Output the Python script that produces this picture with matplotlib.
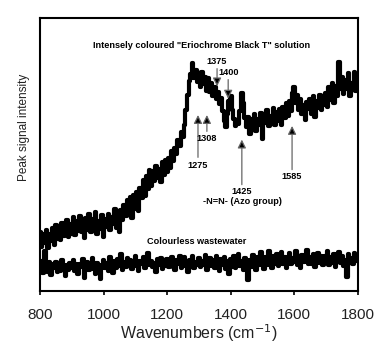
import matplotlib
matplotlib.use("Agg")
import matplotlib.pyplot as plt
import numpy as np

plt.rcParams["font.family"] = ["Liberation Sans", "DejaVu Sans"]

# wavenumbers, 5 cm-1 step
wavenumbers = np.arange(800, 1801, 5)

# "Eriochrome Black T" solution (arbitrary units)
dye_signal = [
    21.5, 16.2, 20.8, 17.5, 22.4, 15.9, 21.0, 18.3, 23.1, 17.0,
    24.2, 19.0, 22.9, 18.6, 25.1, 20.2, 21.4, 26.0, 19.8, 24.5,
    21.0, 27.2, 20.6, 25.8, 22.1, 27.5, 21.7, 24.3, 19.5, 26.9,
    22.3, 28.1, 21.8, 26.4, 23.0, 29.0, 20.9, 25.7, 22.6, 27.8,
    19.8, 26.5, 23.4, 28.3, 22.2, 27.0, 24.6, 30.1, 23.1, 28.6,
    21.5, 29.8, 26.0, 31.7, 27.4, 33.5, 28.0, 34.6, 26.8, 35.2,
    30.1, 36.4, 29.5, 37.9, 34.2, 40.6, 35.0, 42.1, 37.3, 44.5,
    38.4, 43.9, 40.2, 46.0, 41.5, 44.8, 39.9, 47.3, 42.6, 48.1,
    43.7, 48.9, 45.0, 51.2, 47.8, 52.6, 50.1, 55.3, 53.0, 58.2,
    56.4, 61.0, 66.5, 72.0, 76.8, 79.5, 83.5, 78.2, 81.0, 76.5,
    79.8, 74.9, 80.3, 76.0, 78.5, 73.4, 77.9, 72.8, 76.2, 71.5,
    74.6, 70.3, 73.0, 68.5, 70.8, 65.9, 62.4, 60.1, 64.8, 69.8,
    71.5, 66.2, 63.0, 60.5, 62.8, 61.2, 66.0, 72.6, 69.0, 63.5,
    60.2, 63.8, 57.5, 62.9, 60.0, 64.7, 58.8, 63.2, 61.0, 65.1,
    55.6, 63.9, 61.4, 66.2, 60.5, 64.0, 62.3, 67.1, 60.9, 65.5,
    62.2, 66.8, 61.0, 67.5, 63.4, 68.9, 64.1, 69.6, 66.0, 72.4,
    74.6, 69.0, 71.8, 66.2, 70.5, 64.8, 68.3, 62.5, 69.1, 66.7,
    70.2, 65.0, 71.4, 63.6, 69.8, 67.2, 72.0, 66.4, 70.9, 68.1,
    72.5, 67.5, 74.8, 70.0, 76.1, 68.9, 75.3, 71.6, 84.0, 74.2,
    78.6, 72.1, 77.4, 73.9, 79.8, 71.5, 76.3, 74.7, 80.2, 73.3,
    77.0,
]

# colourless wastewater
water_signal = [
    8.1, 11.0, 6.5, 14.8, 9.2, 7.0, 10.6, 5.8, 9.9, 8.4,
    10.8, 6.9, 9.5, 7.4, 11.2, 8.0, 5.6, 9.7, 7.6, 10.3,
    8.3, 11.5, 7.2, 9.8, 6.1, 10.1, 8.7, 11.9, 4.9, 9.0,
    10.7, 7.8, 9.4, 12.0, 8.2, 6.4, 10.4, 7.9, 4.3, 9.6,
    11.3, 8.5, 10.2, 7.3, 12.4, 9.1, 6.8, 10.9, 8.6, 11.7,
    9.3, 13.6, 7.7, 10.5, 8.9, 12.2, 9.7, 11.4, 8.1, 10.0,
    12.8, 9.2, 7.5, 11.1, 9.9, 12.5, 8.4, 10.6, 13.9, 9.5,
    11.0, 8.8, 10.3, 7.1, 11.8, 9.6, 12.1, 8.0, 10.8, 9.3,
    11.6, 8.7, 10.1, 12.6, 9.0, 7.6, 11.2, 9.8, 12.9, 8.5,
    10.4, 12.3, 9.1, 6.9, 11.5, 10.0, 13.0, 8.3, 10.7, 9.4,
    12.2, 8.9, 11.0, 9.6, 13.3, 7.8, 10.5, 12.0, 9.2, 11.3,
    8.6, 12.7, 10.2, 7.4, 11.9, 9.5, 12.4, 8.2, 10.9, 6.3,
    11.6, 9.0, 12.8, 8.4, 10.6, 13.5, 9.3, 11.1, 7.7, 12.1,
    9.8, 4.0, 11.4, 8.8, 13.1, 10.2, 7.9, 12.6, 9.6, 14.2,
    10.5, 8.2, 12.3, 9.7, 14.6, 11.0, 8.6, 12.9, 10.1, 13.4,
    9.2, 11.8, 14.4, 10.0, 12.5, 8.5, 11.6, 13.8, 9.9, 12.2,
    10.8, 14.5, 9.4, 12.0, 8.3, 13.2, 10.6, 11.9, 15.1, 9.8,
    12.4, 10.1, 13.6, 8.9, 11.7, 14.0, 10.3, 12.8, 9.5, 13.0,
    11.2, 14.8, 9.6, 12.5, 10.4, 13.7, 8.7, 12.1, 14.3, 10.2,
    12.9, 9.1, 11.5, 5.2, 13.4, 10.8, 12.2, 9.9, 14.1, 11.0,
    12.0,
]

# peak labels: (text, label x, label y, arrow tail y, arrow tip y)
peaks_down = [("1375", 1357, 84.0, 81.5, 75.0), ("1400", 1392, 80.0, 77.5, 70.5)]
peaks_up = [("1275", 1297, 46.0, 49.0, 64.5), ("1308", 1325, 56.0, 58.5, 64.5),
            ("1425", 1435, 36.5, 39.0, 55.5), ("1585", 1593, 42.0, 44.5, 60.5)]

fig = plt.figure(figsize=(3.9, 3.49), dpi=100)
ax = fig.add_axes([0.1026, 0.166, 0.815, 0.782])

ax.plot(wavenumbers, dye_signal, color="black", lw=3.0, drawstyle="steps-mid")
ax.plot(wavenumbers, water_signal, color="black", lw=3.0, drawstyle="steps-mid")

ax.set_xlim(800, 1800)
ax.set_ylim(0, 100)
ax.set_xticks([800, 1000, 1200, 1400, 1600, 1800])
ax.set_yticks([])
ax.tick_params(axis="x", direction="out", length=3, width=1.2, pad=9,
               labelsize=11, labelcolor="#222222")
for spine in ax.spines.values():
    spine.set_linewidth(1.5)

ax.set_xlabel("Wavenumbers (cm$^{-1}$)", fontsize=11.5, labelpad=0.5, color="#222222")
ax.set_ylabel("Peak signal intensity", fontsize=8.5, color="#222222")
ax.yaxis.set_label_coords(-0.031, 0.60)

bold = dict(fontsize=6.6, fontweight="bold", ha="center", va="center")
ax.text(1309, 90, 'Intensely coloured "Eriochrome Black T" solution', **bold)
ax.text(1293, 18, "Colourless wastewater", **bold)
ax.text(1438, 33.0, "-N=N- (Azo group)", **bold)

arrow = dict(arrowstyle="-|>,head_length=0.5,head_width=0.25", ec="0.4", fc="black", lw=0.9,
             shrinkA=0, shrinkB=0)
for label, x, ty, y0, y1 in peaks_down + peaks_up:
    ax.text(x, ty, label, **bold)
    ax.annotate("", xy=(x, y1), xytext=(x, y0), arrowprops=arrow)

fig.savefig("out.png", dpi=100)
